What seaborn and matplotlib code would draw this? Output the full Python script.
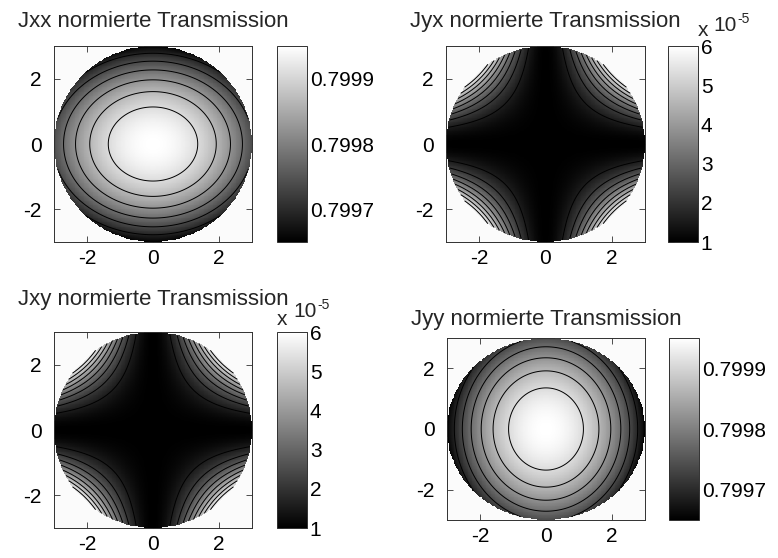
"""
Jones-Matrix normierte Transmission: 4 panels (Jxx, Jyx, Jxy, Jyy)
drawn as seaborn heatmaps over a circular pupil with contour lines.
"""

import numpy as np
import matplotlib
matplotlib.use("Agg")
import matplotlib.pyplot as plt
import seaborn as sns

# ---------------------------------------------------------------------------
# Data
# ---------------------------------------------------------------------------

TITLES = [
    "Jxx normierte Transmission",
    "Jyx normierte Transmission",
    "Jxy normierte Transmission",
    "Jyy normierte Transmission",
]
KINDS = ["diag_x", "offdiag", "offdiag", "diag_y"]

PUPIL_RADIUS = 3.0
GRID_N = 241

# diagonal terms: peak in the centre, drop towards the rim (weak / strong axis)
DIAG_PEAK = 0.79995
DIAG_RIM_DROP = [0.000210, 0.000300]
DIAG_RANGE = [0.79965, 0.79995]
DIAG_TICKS = [0.7997, 0.7998, 0.7999]
DIAG_LEVELS_N = 6

# off-diagonal terms: minimum along the axes, maximum on the rim diagonals
OFFDIAG_RANGE = [1.0e-5, 6.0e-5]
OFFDIAG_TICKS = [1, 2, 3, 4, 5, 6]          # units of 1e-5
OFFDIAG_LEVELS_N = 8

AXIS_TICKS = [-2, 0, 2]

# ---------------------------------------------------------------------------
# Layout (pixel boxes x0, y0, x1, y1 in a 778 x 558 figure)
# ---------------------------------------------------------------------------

FIG_W, FIG_H = 778, 558
AX_BOXES = [(54, 46, 252, 242), (446, 46, 645, 242),
            (54, 332, 252, 528), (447, 338, 645, 520)]
CBAR_BOXES = [(277, 46, 307, 242), (668, 46, 698, 242),
              (277, 332, 307, 528), (669, 338, 699, 520)]
TITLE_PADS = [13.7, 13.7, 19.5, 9.6]
# "x 10^-5" pieces: (x, baseline) in pixels for x, 10, -5
EXP_POS = {1: [(698, 36), (713, 31), (737, 23)],
           2: [(277, 325), (293, 317), (317, 309)]}

FONT = ["Liberation Sans", "DejaVu Sans"]
AX_COLOR = "#303030"


def px_rect(box):
    x0, y0, x1, y1 = box
    return [x0 / FIG_W, (FIG_H - y1) / FIG_H, (x1 - x0) / FIG_W, (y1 - y0) / FIG_H]


def build_fields():
    R = PUPIL_RADIUS
    c = -R + (np.arange(GRID_N) + 0.5) * 2 * R / GRID_N
    X, Y = np.meshgrid(c, c[::-1])           # row 0 = top (y = +R)
    inside = X**2 + Y**2 <= R**2
    jxx = DIAG_PEAK - DIAG_RIM_DROP[0] * (X / R) ** 2 - DIAG_RIM_DROP[1] * (Y / R) ** 2
    jyy = DIAG_PEAK - DIAG_RIM_DROP[1] * (X / R) ** 2 - DIAG_RIM_DROP[0] * (Y / R) ** 2
    lo, hi = OFFDIAG_RANGE
    joff = lo + (hi - lo) * (X * Y) ** 2 / (R**2 / 2) ** 2
    return {"diag_x": jxx, "diag_y": jyy, "offdiag": joff}, inside


def draw_panel(fig, i, field, inside):
    kind = KINDS[i]
    ax = fig.add_axes(px_rect(AX_BOXES[i]))
    cax = fig.add_axes(px_rect(CBAR_BOXES[i]))

    if kind == "offdiag":
        vmin, vmax = OFFDIAG_RANGE
        levels = np.linspace(vmin, vmax, OFFDIAG_LEVELS_N + 2)[1:-1]
        ticks = [t * 1e-5 for t in OFFDIAG_TICKS]
        ticklabels = [str(t) for t in OFFDIAG_TICKS]
    else:
        vmin, vmax = DIAG_RANGE
        levels = np.linspace(vmin, vmax, DIAG_LEVELS_N + 2)[1:-1]
        ticks = DIAG_TICKS
        ticklabels = [f"{t:.4f}" for t in DIAG_TICKS]

    ax.set_facecolor("#fbfbfb")
    sns.heatmap(field, mask=~inside, cmap="gray", vmin=vmin, vmax=vmax,
                ax=ax, cbar_ax=cax, xticklabels=False, yticklabels=False)

    idx = np.arange(GRID_N) + 0.5
    ax.contour(idx, idx, np.ma.masked_array(field, ~inside), levels=levels,
               colors="black", linewidths=0.7)

    # axis ticks in data coordinates -> cell index
    R = PUPIL_RADIUS
    ax.set_xticks([(v + R) / (2 * R) * GRID_N for v in AXIS_TICKS])
    ax.set_xticklabels([str(v) for v in AXIS_TICKS], rotation=0)
    ax.set_yticks([(R - v) / (2 * R) * GRID_N for v in AXIS_TICKS])
    ax.set_yticklabels([str(v) for v in AXIS_TICKS], rotation=0)
    for s in ax.spines.values():
        s.set_visible(True)
        s.set_color(AX_COLOR)
        s.set_linewidth(0.7)
    ax.tick_params(direction="in", length=4, width=0.6, color=AX_COLOR,
                   top=True, right=True, bottom=True, left=True,
                   labelsize=15, labelcolor="black")
    ax.tick_params(axis="x", pad=5)
    ax.tick_params(axis="y", pad=9)
    ax.set_title(TITLES[i], fontsize=16, pad=TITLE_PADS[i])

    cb = ax.collections[0].colorbar
    cb.outline.set_visible(True)
    cb.outline.set_linewidth(0.7)
    cb.outline.set_edgecolor(AX_COLOR)
    cb.set_ticks(ticks)
    cb.set_ticklabels(ticklabels)
    cb.ax.tick_params(direction="in", length=4, width=0.6, color=AX_COLOR,
                      left=True, right=True, labelsize=15, pad=2,
                      labelcolor="black")

    if i in EXP_POS:
        (xx, yx), (x10, y10), (xe, ye) = EXP_POS[i]
        fig.text(xx / FIG_W, 1 - yx / FIG_H, "x", fontsize=15, va="baseline")
        fig.text(x10 / FIG_W, 1 - y10 / FIG_H, "10", fontsize=15, va="baseline")
        fig.text(xe / FIG_W, 1 - ye / FIG_H, "-5", fontsize=10, va="baseline")


def main():
    sns.set_theme(style="white")
    plt.rcParams["font.family"] = FONT

    fields, inside = build_fields()
    fig = plt.figure(figsize=(FIG_W / 100, FIG_H / 100), dpi=100)
    fig.patch.set_facecolor("white")
    for i, kind in enumerate(KINDS):
        draw_panel(fig, i, fields[kind], inside)
    fig.savefig("out.png", dpi=100)
    plt.close(fig)


if __name__ == "__main__":
    main()
